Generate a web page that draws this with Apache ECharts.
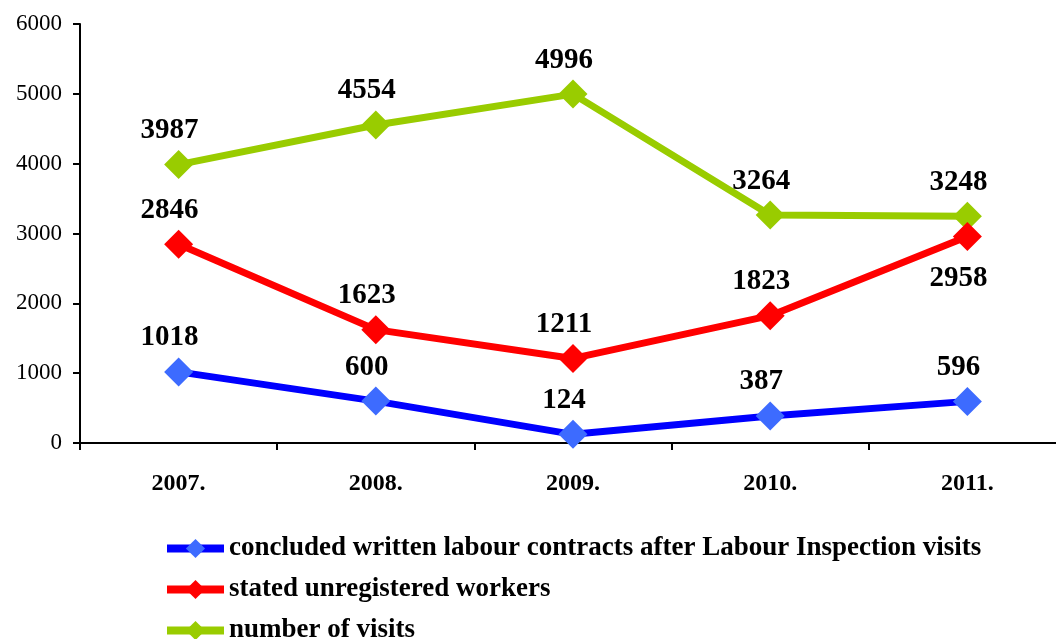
<!DOCTYPE html>
<html>
<head>
<meta charset="utf-8">
<script src="https://cdn.jsdelivr.net/npm/echarts@6/dist/echarts.min.js"></script>
<style>
html, body { margin: 0; padding: 0; background: #fff; overflow: hidden; }
#main { width: 1070px; height: 639px; }
</style>
</head>
<body>
<div id="main"></div>
<script>
var years = ['2007.', '2008.', '2009.', '2010.', '2011.'];
var contracts = [1018, 600, 124, 387, 596];
var unregistered = [2846, 1623, 1211, 1823, 2958];
var visits = [3987, 4554, 4996, 3264, 3248];
var yTicks = [0, 1000, 2000, 3000, 4000, 5000, 6000];

var font = '"Liberation Serif", "Times New Roman", serif';
var labelStyle = {
    show: true,
    position: 'top',
    distance: 5,
    offset: [-9, 0],
    fontFamily: font,
    fontWeight: 'bold',
    fontSize: 29,
    color: '#000'
};

var myChart = echarts.init(document.getElementById('main'));
var option = {
    animation: false,
    textStyle: { fontFamily: font },
    grid: { left: 80, top: 24, width: 986, height: 419 },
    legend: {
        orient: 'vertical',
        left: 163,
        top: 535,
        height: 140,
        padding: 0,
        itemWidth: 57,
        itemHeight: 24,
        itemGap: 14,
        lineStyle: { width: 8 },
        textStyle: { fontFamily: font, fontWeight: 'bold', fontSize: 27, color: '#000' },
        data: [
            'concluded written labour contracts after Labour Inspection visits',
            'stated unregistered workers',
            'number of visits'
        ]
    },
    xAxis: {
        type: 'category',
        data: years,
        boundaryGap: true,
        axisLine: { lineStyle: { color: '#000', width: 2 } },
        axisTick: { show: true, length: 7, inside: false, lineStyle: { color: '#000', width: 2 } },
        axisLabel: { fontFamily: font, fontWeight: 'bold', fontSize: 24, color: '#000', margin: 29 }
    },
    yAxis: {
        type: 'value',
        min: yTicks[0],
        max: yTicks[yTicks.length - 1],
        interval: 1000,
        splitLine: { show: false },
        axisLine: { show: true, lineStyle: { color: '#000', width: 2 } },
        axisTick: { show: true, length: 7, lineStyle: { color: '#000', width: 2 } },
        axisLabel: {
            fontFamily: font, fontSize: 23, color: '#000', margin: 18,
            formatter: function (v) { return String(v); }
        }
    },
    series: [
        {
            name: 'concluded written labour contracts after Labour Inspection visits',
            type: 'line',
            data: contracts,
            symbol: 'diamond',
            symbolSize: 29,
            lineStyle: { color: '#0000ff', width: 7 },
            itemStyle: { color: '#3d6bff' },
            label: labelStyle,
            z: 3
        },
        {
            name: 'stated unregistered workers',
            type: 'line',
            data: unregistered.map(function (v, i) {
                return i === 4 ? { value: v, label: { position: 'bottom', distance: 13 } } : v;
            }),
            symbol: 'diamond',
            symbolSize: 29,
            lineStyle: { color: '#ff0000', width: 7 },
            itemStyle: { color: '#ff0000' },
            label: labelStyle,
            z: 4
        },
        {
            name: 'number of visits',
            type: 'line',
            data: visits,
            symbol: 'diamond',
            symbolSize: 29,
            lineStyle: { color: '#99cc00', width: 7 },
            itemStyle: { color: '#99cc00' },
            label: labelStyle,
            z: 2
        }
    ]
};
myChart.setOption(option);
</script>
</body>
</html>
